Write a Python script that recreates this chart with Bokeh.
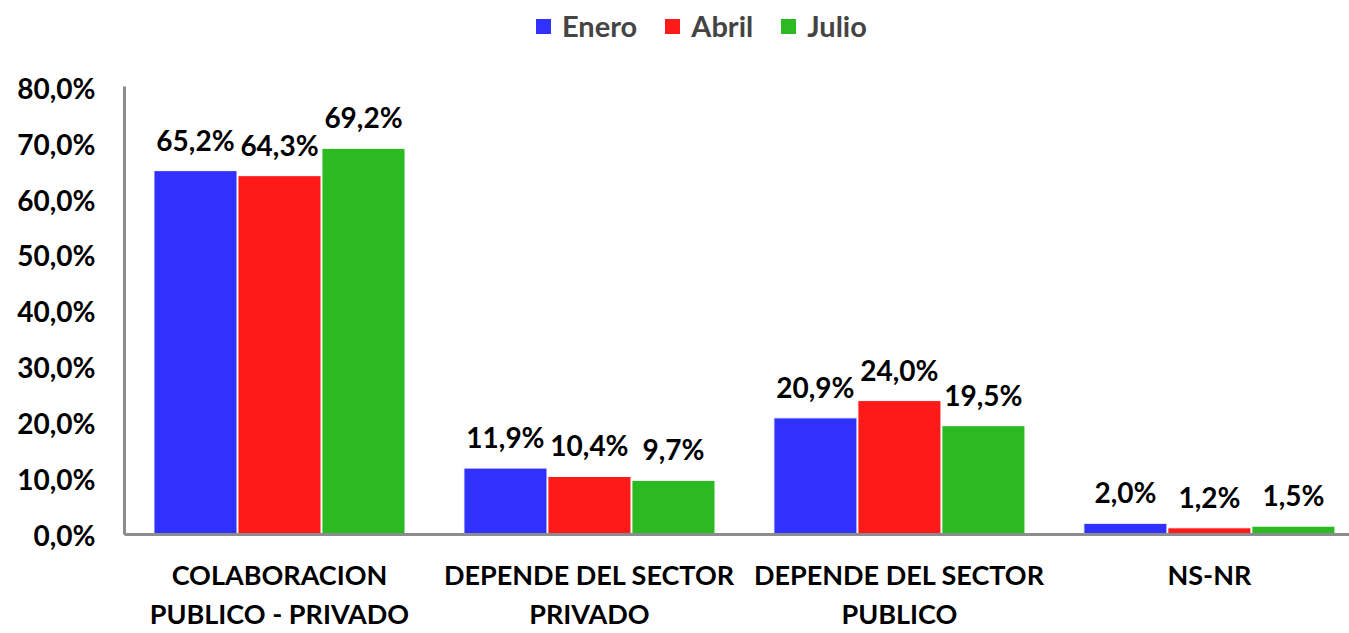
from bokeh.plotting import figure
from bokeh.models import ColumnDataSource, FixedTicker, Range1d, Legend, LegendItem, CustomJSTickFormatter
from bokeh.core.properties import value
from bokeh.embed import file_html
from bokeh.resources import INLINE

categories = ["COLABORACION\nPUBLICO - PRIVADO", "DEPENDE DEL SECTOR\nPRIVADO", "DEPENDE DEL SECTOR\nPUBLICO", "NS-NR"]
series = ["Enero", "Abril", "Julio"]
enero = [65.2, 11.9, 20.9, 2.0]
abril = [64.3, 10.4, 24.0, 1.2]
julio = [69.2, 9.7, 19.5, 1.5]
colors = ["#3030FF", "#FF1A1A", "#2BBA22"]
y_ticks = [0, 10, 20, 30, 40, 50, 60, 70, 80]

FONT = "Lato"

p = figure(width=1349, height=633, output_backend="svg", toolbar_location=None,
           x_range=Range1d(-0.5, 3.452), y_range=Range1d(0, 94.97),
           min_border_left=124, min_border_right=0, min_border_top=4, min_border_bottom=96)
p.outline_line_color = None
p.grid.grid_line_color = None

offsets = [-0.271, 0.0, 0.271]
vals = [enero, abril, julio]
items = []
for i, (name, v, c) in enumerate(zip(series, vals, colors)):
    xs = [k + offsets[i] for k in range(len(categories))]
    src = ColumnDataSource(dict(x=xs, top=v, lab=[f"{t:.1f}%".replace(".", ",") for t in v]))
    r = p.vbar(x="x", top="top", width=0.268, source=src, fill_color=c, line_color="white", line_width=1)
    p.text(x="x", y="top", text="lab", source=src, text_align="center", text_baseline="bottom",
           y_offset=-14, text_font=value(FONT), text_font_style="bold", text_font_size="28px", text_color="black")
    items.append(LegendItem(label=name, renderers=[r]))

legend = Legend(items=items, orientation="horizontal", location=(409, 491),
                label_text_font=FONT, label_text_font_style="bold", label_text_font_size="29px",
                glyph_width=20, glyph_height=20, spacing=25, padding=2, margin=0,
                border_line_color=None, background_fill_alpha=0, label_standoff=9)
p.add_layout(legend)

p.xaxis.ticker = FixedTicker(ticks=list(range(len(categories))))
p.xaxis.major_label_overrides = {i: c for i, c in enumerate(categories)}
p.xaxis.major_tick_line_color = None
p.xaxis.minor_tick_line_color = None
p.xaxis.axis_line_color = "#8c8c8c"
p.xaxis.axis_line_width = 3
p.xaxis.major_label_standoff = 17
p.xaxis.major_label_text_font = FONT
p.xaxis.major_label_text_font_style = "bold"
p.xaxis.major_label_text_font_size = "27px"
p.xaxis.major_label_text_color = "black"

p.yaxis.ticker = FixedTicker(ticks=y_ticks)
p.yaxis.bounds = (0, 80.36)
p.yaxis.formatter = CustomJSTickFormatter(code="return tick.toFixed(1).replace('.', ',') + '%';")
p.yaxis.major_tick_line_color = None
p.yaxis.minor_tick_line_color = None
p.yaxis.axis_line_color = "#8c8c8c"
p.yaxis.axis_line_width = 3
p.yaxis.major_label_standoff = 23
p.yaxis.major_label_text_font = FONT
p.yaxis.major_label_text_font_style = "bold"
p.yaxis.major_label_text_font_size = "28px"
p.yaxis.major_label_text_color = "black"

open("out.html", "w").write(file_html(p, INLINE))
